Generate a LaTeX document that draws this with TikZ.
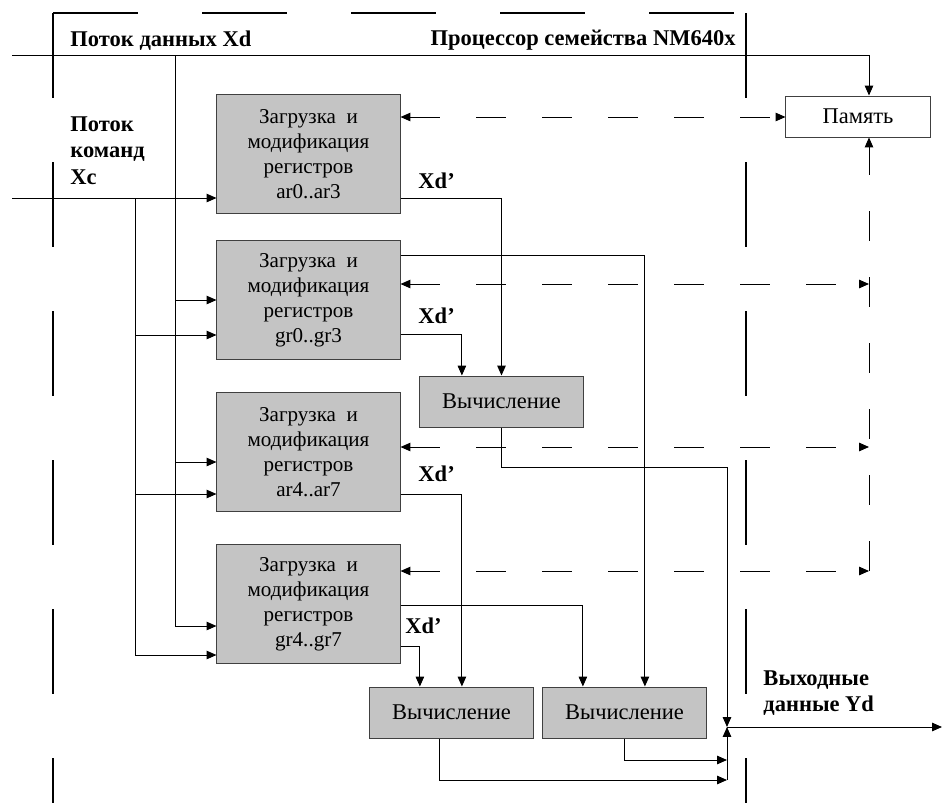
\documentclass[tikz,border=0pt]{standalone}
\usepackage{fontspec}
\setmainfont{Liberation Serif}
\usetikzlibrary{arrows.meta}
\usetikzlibrary{positioning}
\definecolor{boxgray}{RGB}{196,196,196}
\tikzstyle{reg}=[draw=black!75, fill=boxgray, minimum width=4.575cm, minimum height=2.95cm,
                align=center, inner sep=0pt, font=\fontsize{15}{17.7}\selectfont]
\tikzstyle{vych}=[draw=black!75, fill=boxgray, minimum width=4.075cm, minimum height=1.275cm,
                inner sep=0pt, font=\fontsize{16}{18}\selectfont]
\tikzstyle{mem}=[draw=black!75, fill=white, minimum width=3.6cm, minimum height=1.025cm,
                inner sep=0pt, font=\fontsize{16}{18}\selectfont]
\tikzstyle{lbl}=[inner sep=0pt, font=\fontsize{16}{18.8}\selectfont\bfseries]
\tikzstyle{ctl}=[dash pattern=on 0.75cm off 0.9cm]
\tikzstyle{frame}=[line width=2pt, dash pattern=on 2.125cm off 1.6cm]

\begin{document}
\begin{tikzpicture}[x=0.025cm, y=-0.025cm, line width=0.7pt,
                    >={Triangle[length=7pt,width=6pt]}]
\useasboundingbox (0,0) rectangle (942,803);
% processor boundary
\draw[frame] (53,13) -- (53,803);
\draw[frame] (53,13) -- (746,13);
\draw[frame] (746,13) -- (746,803);

\node[lbl, anchor=west] (xdlbl) at (70,41) {Поток данных Xd};
\node[lbl, anchor=east] (cpulbl) at (736,40) {Процессор семейства NM640x};
\node[lbl, anchor=north west, align=left] (xclbl) at (70,116) {Поток\\команд\\Xc};
\node[lbl, anchor=west, align=left] (ydlbl) at (763,693) {Выходные\\данные Yd};

% blocks
\node[reg] (reg1) at (308.5,154) {Загрузка\ \ и\\модификация\\регистров\\ar0..ar3};
\node[reg] (reg2) at (308.5,300) {Загрузка\ \ и\\модификация\\регистров\\gr0..gr3};
\node[reg] (reg3) at (308.5,452) {Загрузка\ \ и\\модификация\\регистров\\ar4..ar7};
\node[reg] (reg4) at (308.5,604) {Загрузка\ \ и\\модификация\\регистров\\gr4..gr7};
\node[vych] (v1) at (501.5,401.5) {Вычисление};
\node[vych] (v2) at (451.5,712.5) {Вычисление};
\node[vych] (v3) at (624.5,712.5) {Вычисление};
\node[mem] (mem) at (858,116.5) {Память};

\node[lbl, anchor=west] (xd1) at (418,181) {Xd’};
\node[lbl, anchor=west] (xd2) at (418,316) {Xd’};
\node[lbl, anchor=west] (xd3) at (418,474) {Xd’};
\node[lbl, anchor=west] (xd4) at (405,626) {Xd’};

\coordinate (xdin) at (12,55);
\coordinate (xdtap) at (175,55);
\coordinate (xdend) at (175,626);
\coordinate (xcin) at (12,198);
\coordinate (xctap) at (135,198);
\coordinate (xcend) at (135,655);
\coordinate (memtap) at (869,55);
\coordinate (busend) at (869,571);
\coordinate (v1turn) at (727,467);
\coordinate (sum) at (727,727);
\coordinate (sumlow) at (727,780);
\coordinate (ydout) at (942,727);

% data and command flows
\draw[->] (xdin) -- (memtap) -- (mem.north -| memtap);
\draw (xdtap) -- (xdend);
\draw[->] (xdtap |- 0,300) -- (reg2.west |- 0,300);
\draw[->] (xdtap |- 0,462) -- (reg3.west |- 0,462);
\draw[->] (xdend) -- (reg4.west |- xdend);
\draw[->] (xcin) -- (reg1.west |- xcin);
\draw (xctap) -- (xcend);
\draw[->] (xctap |- 0,335) -- (reg2.west |- 0,335);
\draw[->] (xctap |- 0,494) -- (reg3.west |- 0,494);
\draw[->] (xcend) -- (reg4.west |- xcend);

% Xd' to the computing units
\draw[->] (reg1.east |- 0,198) -| (v1.north);
\draw[->] (reg2.east |- 0,334) -| ([xshift=-0.99cm]v1.north);
\draw[->] (reg2.east |- 0,255) -| ([xshift=0.51cm]v3.north);
\draw[->] (reg3.east |- 0,494) -| ([xshift=0.26cm]v2.north);
\draw[->] (reg4.east |- 0,605) -| ([xshift=-1.04cm]v3.north);
\draw[->] (reg4.east |- 0,646) -| ([xshift=-0.79cm]v2.north);

% results
\draw[->] (v1.south) |- (v1turn) -- (sum);
\draw[->] (v3.south) |- (sum |- 0,760);
\draw[->] ([xshift=-0.29cm]v2.south) |- (sumlow);
\draw[->] (sumlow) -- (sum);
\draw[->] (sum) -- (ydout);

% memory exchange
\draw[<->, ctl] (reg1.east |- 0,117) -- (mem.west |- 0,117);
\draw[->, ctl] (busend) -- (mem.south -| memtap);
\draw[<->, ctl] (reg2.east |- 0,284) -- (busend |- 0,284);
\draw[<->, ctl] (reg3.east |- 0,447) -- (busend |- 0,447);
\draw[<->, ctl] (reg4.east |- 0,571) -- (busend);
\end{tikzpicture}
\end{document}
